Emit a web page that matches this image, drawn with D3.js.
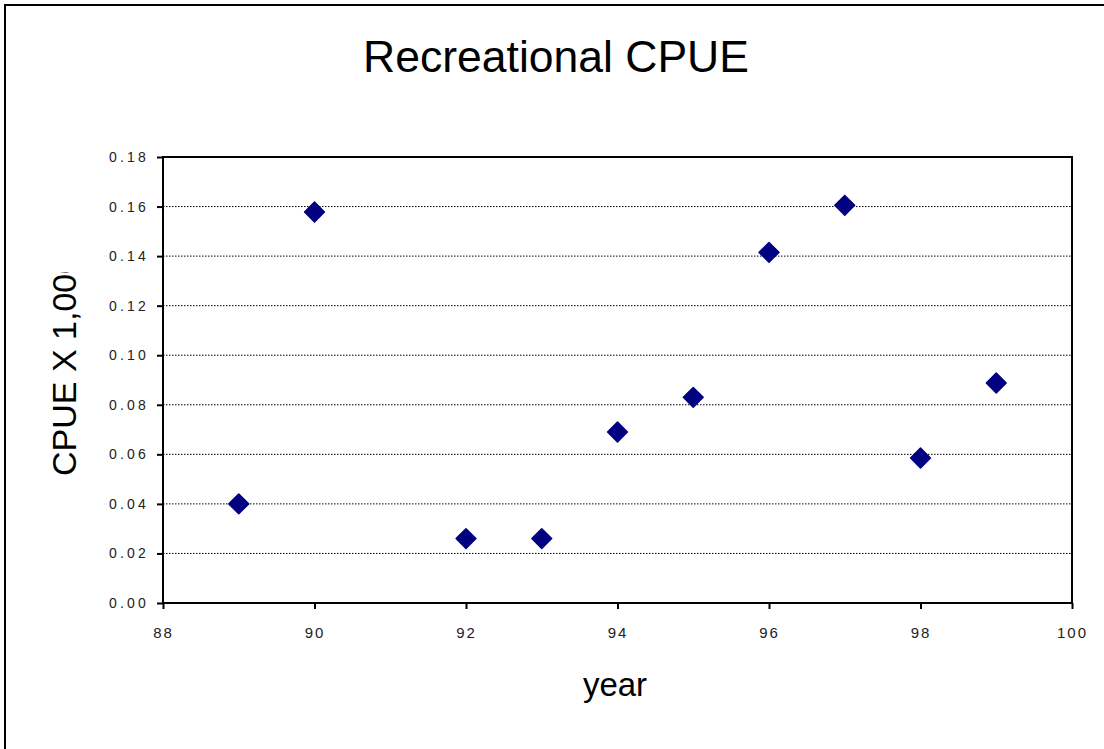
<!DOCTYPE html>
<html>
<head>
<meta charset="utf-8">
<script src="https://cdn.jsdelivr.net/npm/d3@7"></script>
<style>
  body { margin: 0; background: #fff; }
  text { font-family: "Liberation Sans", Arial, sans-serif; }
</style>
</head>
<body>
<svg></svg>
<script>
const years = [89, 90, 92, 93, 94, 95, 96, 97, 98, 99];
const cpue = [0.040, 0.1578, 0.026, 0.026, 0.069, 0.083, 0.1415, 0.1605, 0.0585, 0.0888];
const xTicks = [88, 90, 92, 94, 96, 98, 100];
const yTicks = [0, 0.02, 0.04, 0.06, 0.08, 0.10, 0.12, 0.14, 0.16, 0.18];

const width = 1104, height = 749;
const svg = d3.select('svg').attr("width", width).attr("height", height);

// outer chart border (only left/top visible in the reference)
svg.append('rect').attr("x", 5).attr("y", 5).attr("width", width + 10).attr("height", height + 10)
    .attr("fill", "none").attr("stroke", "#000").attr("stroke-width", 2);

const margin = { top: 157, right: 32, bottom: 146, left: 163 };
const innerWidth = width - margin.left - margin.right;
const innerHeight = height - margin.top - margin.bottom;

const g = svg.append('g').attr("transform", `translate(${margin.left},${margin.top})`);
const xScale = d3.scaleLinear().domain([88, 100]).range([0, innerWidth]);
const yScale = d3.scaleLinear().domain([0, 0.18]).range([innerHeight, 0]);

// dotted gridlines
g.selectAll('.grid').data(yTicks.slice(1, -1)).enter().append('line')
    .attr("x1", 0).attr("x2", innerWidth)
    .attr("y1", d => yScale(d)).attr("y2", d => yScale(d))
    .attr("stroke", "#000").attr("stroke-width", 1).attr("stroke-dasharray", "1.5,1.5");

// plot frame
g.append('rect').attr("width", innerWidth).attr("height", innerHeight)
    .attr("fill", "none").attr("stroke", "#000").attr("stroke-width", 2);

const yAxis = d3.axisLeft(yScale).tickValues(yTicks).tickFormat(d3.format('.2f')).tickSize(6).tickPadding(8);
const xAxis = d3.axisBottom(xScale).tickValues(xTicks).tickFormat(d3.format('d')).tickSize(6).tickPadding(18);

const ya = g.append('g').call(yAxis);
const xa = g.append('g').call(xAxis).attr("transform", `translate(0,${innerHeight})`);
[ya, xa].forEach(a => {
    a.select('.domain').remove();
    a.selectAll('line').attr("stroke", "#000").attr("stroke-width", 2);
    a.selectAll('text').attr("fill", "#222").attr("font-family", "'DejaVu Sans', sans-serif");
});
ya.selectAll('text').attr("font-size", 14).style("letter-spacing", "3.2px");
xa.selectAll('text').attr("font-size", 15).style("letter-spacing", "2px");

// diamond markers
const diamond = d3.symbol().type(d3.symbolDiamond2).size(250);
g.selectAll('.pt').data(years).enter().append('path')
    .attr("d", diamond)
    .attr("transform", (d, i) => `translate(${xScale(d)},${yScale(cpue[i])})`)
    .attr("fill", "#000080").attr("stroke", "#000080").attr("stroke-width", 1.5)
    .attr("stroke-linejoin", "round");

// title
svg.append('text').attr("x", 556).attr("y", 72).attr("text-anchor", "middle")
    .attr("font-size", 44.5).attr("fill", "#000").text("Recreational CPUE");

// x label
svg.append('text').attr("x", 615).attr("y", 696).attr("text-anchor", "middle")
    .attr("font-size", 33).attr("fill", "#000").text("year");

// y label, clipped at the top as in the reference
svg.append('clipPath').attr("id", "yclip").append('rect')
    .attr("x", 0).attr("y", 272).attr("width", 100).attr("height", 300);
svg.append('g').attr("clip-path", "url(#yclip)").append('text')
    .attr("transform", "translate(76,476) rotate(-90)")
    .attr("font-size", 34).attr("fill", "#000").text("CPUE X 1,000");
</script>
</body>
</html>
